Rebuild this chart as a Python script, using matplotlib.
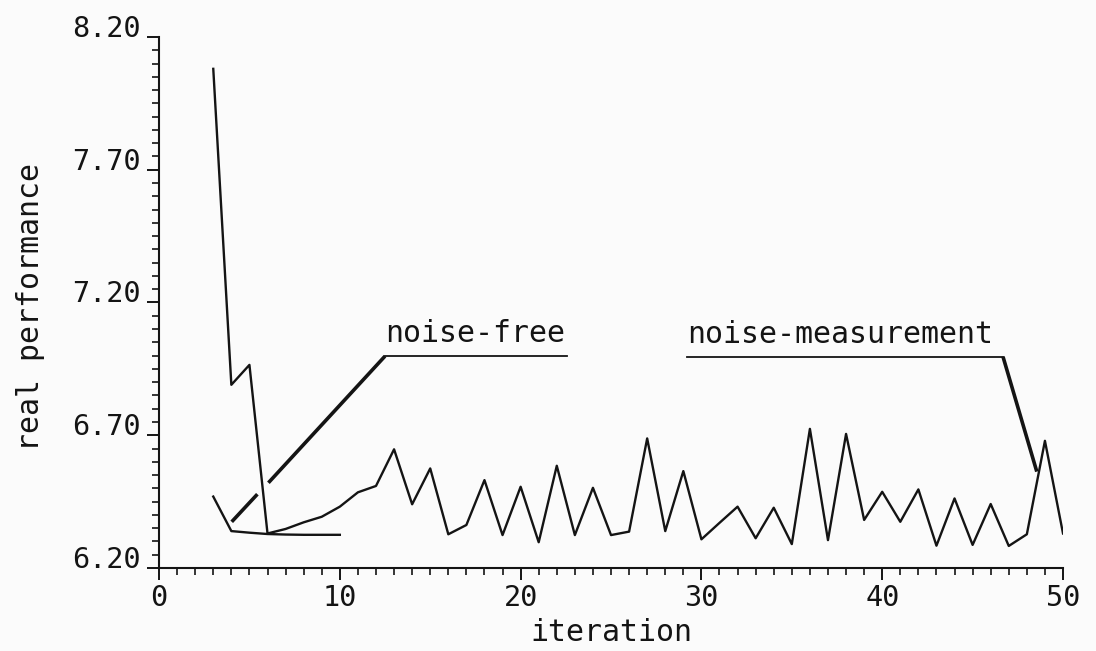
import matplotlib
matplotlib.use("Agg")
import matplotlib.pyplot as plt
from matplotlib.ticker import MultipleLocator, FixedLocator

# Real performance per iteration
iter_measured = list(range(3, 51))
perf_measured = [8.08, 6.89, 6.965, 6.33, 6.347, 6.372, 6.393, 6.431, 6.485, 6.509,
                 6.647, 6.44, 6.575, 6.327, 6.362, 6.531, 6.324, 6.506, 6.297, 6.585,
                 6.324, 6.502, 6.324, 6.337, 6.688, 6.339, 6.565, 6.308, 6.37, 6.431,
                 6.312, 6.427, 6.290, 6.724, 6.305, 6.705, 6.381, 6.487, 6.374, 6.496,
                 6.284, 6.462, 6.287, 6.441, 6.283, 6.327, 6.679, 6.33]

iter_free = list(range(3, 11))
perf_free = [6.469, 6.339, 6.333, 6.328, 6.326, 6.325, 6.325, 6.325]

x_major = [0, 10, 20, 30, 40, 50]
y_major = [6.20, 6.70, 7.20, 7.70, 8.20]
x_labels = ["0", "10", "20", "30", "40", "50"]
y_labels = ["6.20", "6.70", "7.20", "7.70", "8.20"]

FONT = "DejaVu Sans Mono"
INK = "#141414"
BG = "#fbfbfb"

fig = plt.figure(figsize=(10.96, 6.51), dpi=100, facecolor=BG)
ax = fig.add_axes([0.1451, 0.1275, 0.8248, 0.8157], facecolor=BG)

# leader for the noise-free curve, broken where it crosses the measured curve
ax.plot([4.02, 5.44], [6.374, 6.478], color=INK, lw=2.6, solid_capstyle="butt")
ax.plot([6.05, 12.5], [6.521, 6.998], color=INK, lw=2.6, solid_capstyle="butt")
ax.plot([12.5, 22.57], [6.998, 6.998], color=INK, lw=1.3)
ax.text(12.5, 7.05, "noise-free", family=FONT, fontsize=21.5, color=INK,
        ha="left", va="baseline")

# leader for the measured curve
ax.plot([29.2, 46.68], [6.996, 6.996], color=INK, lw=1.3)
ax.plot([46.68, 48.55], [6.996, 6.563], color=INK, lw=2.6, solid_capstyle="butt")
ax.text(29.2, 7.046, "noise-measurement", family=FONT, fontsize=21.5, color=INK,
        ha="left", va="baseline")

ax.plot(iter_free, perf_free, color=INK, lw=1.7)
ax.plot(iter_measured, perf_measured, color=INK, lw=1.7)

ax.set_xlim(0, 50)
ax.set_ylim(6.20, 8.20)

for side in ("top", "right"):
    ax.spines[side].set_visible(False)
for side in ("left", "bottom"):
    ax.spines[side].set_linewidth(1.5)
    ax.spines[side].set_color(INK)

ax.xaxis.set_major_locator(FixedLocator(x_major))
ax.yaxis.set_major_locator(FixedLocator(y_major))
ax.xaxis.set_minor_locator(MultipleLocator(1))
ax.yaxis.set_minor_locator(MultipleLocator(0.05))
ax.set_xticklabels(x_labels)
ax.set_yticklabels(y_labels)

ax.tick_params(axis="both", which="major", direction="out", length=8.5, width=1.4,
               color=INK, labelcolor=INK, labelsize=20.5)
ax.tick_params(axis="both", which="minor", direction="out", length=5, width=1.2,
               color=INK)
ax.tick_params(axis="y", which="major", pad=5)
ax.tick_params(axis="x", which="major", pad=3)

for lab in ax.get_xticklabels() + ax.get_yticklabels():
    lab.set_family(FONT)
for lab in ax.get_yticklabels():
    lab.set_va("baseline")

ax.set_xlabel("iteration", family=FONT, fontsize=21.5, color=INK)
ax.xaxis.label.set_va("baseline")
ax.xaxis.set_label_coords(0.5, -0.138)

ax.set_ylabel("real performance", family=FONT, fontsize=21.5, color=INK)
ax.yaxis.label.set_rotation_mode("anchor")
ax.yaxis.label.set_ha("center")
ax.yaxis.label.set_va("baseline")
ax.yaxis.set_label_coords(-0.133, 0.4915)

fig.savefig("out.png", dpi=100, facecolor=BG)
